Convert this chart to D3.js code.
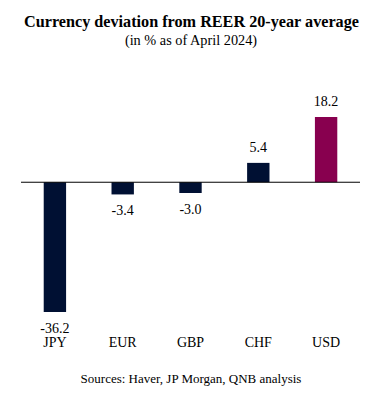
<!DOCTYPE html>
<html><head><meta charset="utf-8">
<script src="https://cdn.jsdelivr.net/npm/d3@7"></script>
<style>body{margin:0;background:#fff}svg{display:block}text{font-family:"Liberation Serif","Times New Roman",serif;fill:#000}</style>
</head><body>
<script>
const categories = ["JPY","EUR","GBP","CHF","USD"];
const values = [-36.2,-3.4,-3.0,5.4,18.2];
const labels = ["-36.2","-3.4","-3.0","5.4","18.2"];
const colors = ["#001033","#001033","#001033","#001033","#88004f"];

const W=377,H=393;
const svg=d3.select("body").append("svg").attr("width",W).attr("height",H);
const x=d3.scaleBand().domain(categories).range([21,360]).paddingInner(0.67).paddingOuter(0.335);
const y=d3.scaleLinear().domain([-36.2,18.2]).range([312,117]);

svg.append("text").attr("x",191.5).attr("y",26.5).attr("text-anchor","middle")
  .attr("font-size",16.2).attr("font-weight","bold").text("Currency deviation from REER 20-year average");
svg.append("text").attr("x",191).attr("y",45).attr("text-anchor","middle")
  .attr("font-size",14.3).text("(in % as of April 2024)");

svg.selectAll("rect.bar").data(values).enter().append("rect")
  .attr("x",(d,i)=>x(categories[i])).attr("width",x.bandwidth())
  .attr("y",d=>y(Math.max(0,d))).attr("height",d=>Math.abs(y(d)-y(0)))
  .attr("fill",(d,i)=>colors[i]);

svg.append("line").attr("x1",21).attr("x2",360).attr("y1",y(0)).attr("y2",y(0))
  .attr("stroke","#000").attr("stroke-width",1);

svg.selectAll("text.val").data(values).enter().append("text")
  .attr("x",(d,i)=>x(categories[i])+x.bandwidth()/2)
  .attr("y",d=>d>=0?y(d)-11:y(d)+21)
  .attr("text-anchor","middle").attr("font-size",14)
  .text((d,i)=>labels[i]);

svg.selectAll("text.cat").data(categories).enter().append("text")
  .attr("x",d=>x(d)+x.bandwidth()/2).attr("y",347)
  .attr("text-anchor","middle").attr("font-size",14).text(d=>d);

svg.append("text").attr("x",191).attr("y",383).attr("text-anchor","middle")
  .attr("font-size",13).text("Sources: Haver, JP Morgan, QNB analysis");
</script>
</body></html>
